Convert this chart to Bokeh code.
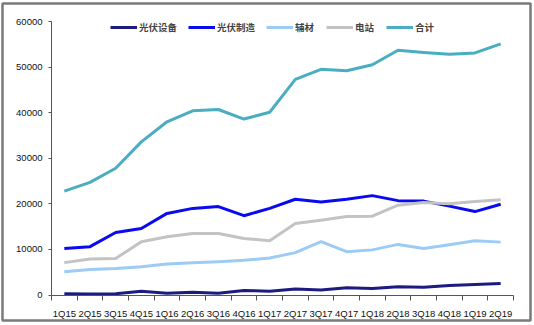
from bokeh.plotting import figure
from bokeh.models import FixedTicker, Legend, LegendItem, Range1d
from bokeh.embed import file_html
from bokeh.resources import INLINE

quarters = ["1Q15", "2Q15", "3Q15", "4Q15", "1Q16", "2Q16", "3Q16", "4Q16", "1Q17",
            "2Q17", "3Q17", "4Q17", "1Q18", "2Q18", "3Q18", "4Q18", "1Q19", "2Q19"]
pv_equipment = [300, 200, 300, 800, 400, 600, 400, 1000, 800, 1300, 1100, 1600, 1400, 1800, 1700, 2100, 2300, 2500]
pv_manufacturing = [10200, 10600, 13700, 14600, 17900, 19000, 19400, 17400, 19000, 21000, 20400, 21000, 21800, 20700, 20600, 19500, 18300, 19900]
auxiliary = [5100, 5600, 5800, 6200, 6800, 7100, 7300, 7600, 8100, 9300, 11700, 9500, 9900, 11100, 10200, 11000, 11900, 11600]
power_station = [7100, 7900, 8000, 11700, 12800, 13500, 13500, 12400, 11900, 15700, 16400, 17200, 17300, 19700, 20300, 20000, 20500, 20900]
total = [22800, 24700, 27800, 33600, 38000, 40400, 40700, 38600, 40100, 47300, 49500, 49200, 50500, 53700, 53200, 52800, 53100, 55100]
y_ticks = [0, 10000, 20000, 30000, 40000, 50000, 60000]

series = [
    ("光伏设备", pv_equipment, "#1c1c80"),
    ("光伏制造", pv_manufacturing, "#0a0af0"),
    ("辅材", auxiliary, "#9ccbf5"),
    ("电站", power_station, "#c3c3c3"),
    ("合计", total, "#4aadc2"),
]

n = len(quarters)
xs = [i + 0.5 for i in range(n)]
y_max = y_ticks[-1]

# Layout in pixels: the frame is the outer picture box, the plot area sits inside it
W, H = 534, 325
box_l, box_r, box_t, box_b = 2, 530, 3, 320
plot_l, plot_r, plot_t, plot_b = 51, 513, 21, 294.5
sx = (plot_r - plot_l) / n
sy = (plot_b - plot_t) / y_max
x_start = -(plot_l - box_l) / sx
x_end = n + (box_r - plot_r) / sx
y_start = -(box_b - plot_b) / sy
y_end = y_max + (plot_t - box_t) / sy

p = figure(width=W, height=H, output_backend="svg", toolbar_location=None,
           x_range=Range1d(x_start, x_end), y_range=Range1d(y_start, y_end),
           min_border_left=box_l, min_border_right=W - box_r,
           min_border_top=box_t, min_border_bottom=H - box_b)
p.outline_line_color = "#7a7a7a"
p.outline_line_width = 2.5
p.xgrid.visible = False
p.ygrid.visible = False

axis_font = "Liberation Sans"

xa = p.xaxis[0]
xa.fixed_location = 0
xa.bounds = (0, n)
xa.ticker = FixedTicker(ticks=xs, minor_ticks=list(range(n + 1)))
xa.major_label_overrides = {x: q for x, q in zip(xs, quarters)}
xa.major_tick_out = 0
xa.major_tick_in = 0
xa.minor_tick_out = 5
xa.minor_tick_in = 0
xa.minor_tick_line_color = "#555555"
xa.axis_line_color = "#555555"
xa.major_label_standoff = 8
xa.major_label_text_font = axis_font
xa.major_label_text_font_size = "9.5px"
xa.major_label_text_color = "#111111"

ya = p.yaxis[0]
ya.fixed_location = 0
ya.bounds = (0, y_max)
ya.ticker = FixedTicker(ticks=y_ticks)
ya.minor_tick_line_color = None
ya.major_tick_out = 3
ya.major_tick_in = 0
ya.major_tick_line_color = "#555555"
ya.axis_line_color = "#555555"
ya.major_label_standoff = 6
ya.major_label_text_font = axis_font
ya.major_label_text_font_size = "9.5px"
ya.major_label_text_color = "#111111"

items = []
for name, vals, color in series:
    r = p.line(xs, vals, line_color=color, line_width=3, line_join="round")
    items.append(LegendItem(label=name, renderers=[r]))

legend = Legend(items=items, orientation="horizontal", location=(108, 286),
                background_fill_alpha=0, border_line_color=None,
                padding=0, margin=0, spacing=11, label_standoff=2,
                glyph_width=27, glyph_height=12, label_height=12,
                label_text_font="Noto Sans CJK SC", label_text_font_size="9.5px",
                label_text_font_style="bold")
p.add_layout(legend)

open("out.html", "w").write(file_html(p, INLINE))
